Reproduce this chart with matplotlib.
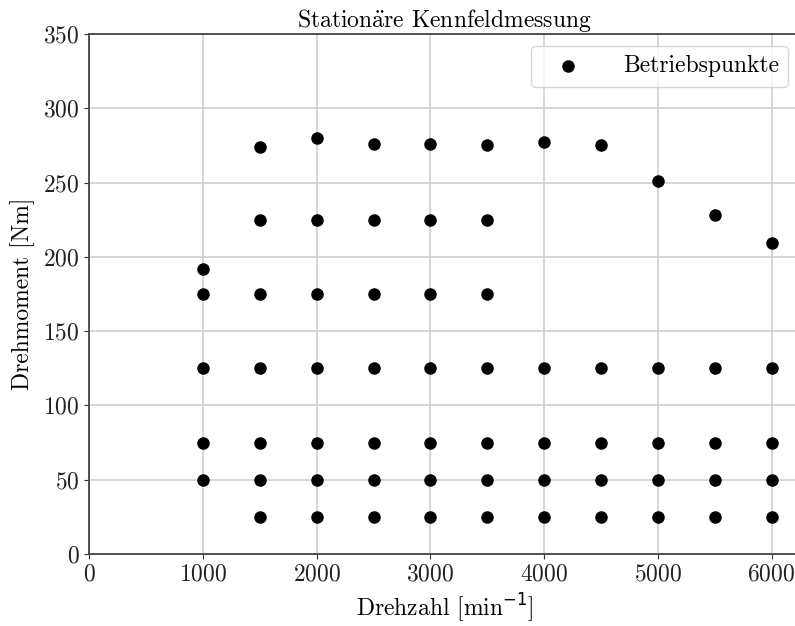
"""Stationary engine map measurement: operating points over speed and torque."""

import matplotlib
matplotlib.use('Agg')
import matplotlib.pyplot as plt

# Operating points, grouped by engine speed [1/min] -> torque values [Nm]
drehzahl = [1000] * 5 + [1500] * 7 + [2000] * 7 + [2500] * 7 + [3000] * 7 + \
    [3500] * 7 + [4000] * 5 + [4500] * 5 + [5000] * 5 + [5500] * 5 + [6000] * 5
drehmoment = [
    50, 75, 125, 175, 192,
    25, 50, 75, 125, 175, 225, 274,
    25, 50, 75, 125, 175, 225, 280,
    25, 50, 75, 125, 175, 225, 276,
    25, 50, 75, 125, 175, 225, 276,
    25, 50, 75, 125, 175, 225, 275,
    25, 50, 75, 125, 277,
    25, 50, 75, 125, 275,
    25, 50, 75, 125, 251,
    25, 50, 75, 125, 228,
    25, 50, 75, 125, 209,
]

plt.rcParams['font.family'] = ['cmr10', 'DejaVu Serif']
plt.rcParams['axes.formatter.use_mathtext'] = True
plt.rcParams['font.size'] = 17


def render_data():
    fig = plt.figure(figsize=(7.95, 6.26), dpi=100)
    ax = fig.add_axes([0.1123, 0.115, 0.894, 0.8307])

    ax.scatter(drehzahl, drehmoment, c='black', s=64, label='Betriebspunkte', zorder=3)

    ax.set_xlim(0, 6250)
    ax.set_ylim(0, 350)
    ax.set_xticks([0, 1000, 2000, 3000, 4000, 5000, 6000])
    ax.set_yticks(range(0, 351, 50))

    ax.grid(True, color='#cccccc', linewidth=1.1)
    ax.set_axisbelow(True)
    for sp in ax.spines.values():
        sp.set_color('#444444')
        sp.set_linewidth(1.3)
    ax.tick_params(colors='#333333', labelcolor='#222222')

    # cmr10 has no umlaut glyph, so the accent is set through mathtext in CM
    ax.set_title(r'Station$\mathrm{\ddot{a}}$re Kennfeldmessung', fontsize=17, pad=4,
                 math_fontfamily='cm')
    ax.set_xlabel('Drehzahl [min$^{-1}$]', labelpad=4)
    ax.set_ylabel('Drehmoment [Nm]', labelpad=6)

    ax.legend(loc='upper right', fontsize=17, handletextpad=1.1, borderpad=0.4,
              handlelength=2.4)

    fig.savefig('out.png', dpi=100)


def main():
    render_data()


if __name__ == "__main__":
    main()
